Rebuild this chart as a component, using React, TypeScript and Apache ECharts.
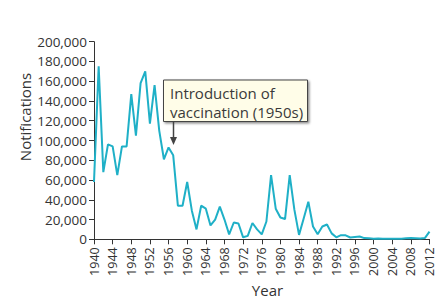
import React, { useEffect, useRef } from "react";
import * as echarts from "echarts";

const years: number[] = [
  1940, 1941, 1942, 1943, 1944, 1945, 1946, 1947, 1948, 1949,
  1950, 1951, 1952, 1953, 1954, 1955, 1956, 1957, 1958, 1959,
  1960, 1961, 1962, 1963, 1964, 1965, 1966, 1967, 1968, 1969,
  1970, 1971, 1972, 1973, 1974, 1975, 1976, 1977, 1978, 1979,
  1980, 1981, 1982, 1983, 1984, 1985, 1986, 1987, 1988, 1989,
  1990, 1991, 1992, 1993, 1994, 1995, 1996, 1997, 1998, 1999,
  2000, 2001, 2002, 2003, 2004, 2005, 2006, 2007, 2008, 2009,
  2010, 2011, 2012,
];

const notifications: number[] = [
  58000, 175000, 68000, 96000, 94000, 65000, 94000, 94000, 147000, 105000,
  158000, 170000, 117000, 156000, 110000, 81000, 93000, 85000, 34000, 34000,
  58000, 29000, 10000, 34000, 31000, 14000, 20000, 33000, 20000, 5000,
  17000, 16000, 2000, 3500, 16500, 10000, 5000, 18000, 65000, 31000,
  22000, 20500, 65000, 30000, 4500, 21000, 38000, 13000, 5000, 13000,
  15000, 6000, 2000, 4200, 4000, 1800, 2400, 2900, 1200, 1100,
  600, 700, 600, 500, 500, 600, 600, 1000, 1200, 1100,
  800, 1200, 7700,
];

const yAxisTitle = "Notifications";
const xAxisTitle = "Year";
const annotationText = "Introduction of\nvaccination (1950s)";

const FONT = "'Open Sans', 'DejaVu Sans', sans-serif";
const TEXT = "#333333";
const AXIS = "#333333";

export default function App() {
  const ref = useRef<HTMLDivElement>(null);

  useEffect(() => {
    if (!ref.current) return;
    const chart = echarts.init(ref.current, null, { renderer: "svg" });
    const data = years.map((y, i) => [y, notifications[i]]);
    chart.setOption({
      animation: false,
      backgroundColor: "#ffffff",
      grid: { left: 94, top: 41.7, right: 2, bottom: 60.7, containLabel: false },
      xAxis: {
        type: "value",
        min: 1940,
        max: 2012,
        interval: 4,
        axisLine: { show: true, lineStyle: { color: AXIS, width: 1 } },
        axisTick: { show: true, length: 5, lineStyle: { color: AXIS } },
        splitLine: { show: false },
        axisLabel: {
          rotate: 90,
          margin: 8,
          color: TEXT,
          fontFamily: FONT,
          fontSize: 12.5,
          formatter: (v: number) => String(v),
        },
      },
      yAxis: {
        type: "value",
        min: 0,
        max: 200000,
        interval: 20000,
        axisLine: { show: true, lineStyle: { color: AXIS, width: 1 } },
        axisTick: { show: true, length: 5, lineStyle: { color: AXIS } },
        splitLine: { show: false },
        axisLabel: {
          margin: 7,
          color: TEXT,
          fontFamily: FONT,
          fontSize: 13.5,
          formatter: (v: number) => v.toLocaleString("en-US"),
        },
      },
      series: [
        {
          type: "line",
          data,
          symbol: "none",
          lineStyle: { color: "#1fb0c7", width: 2 },
          clip: false,
        },
      ],
      graphic: [
        {
          type: "text",
          x: 25,
          y: 117,
          rotation: Math.PI / 2,
          style: {
            text: yAxisTitle,
            fill: TEXT,
            font: `15px ${FONT}`,
            align: "center",
            verticalAlign: "middle",
          },
        },
        {
          type: "text",
          x: 267.5,
          y: 290,
          style: {
            text: xAxisTitle,
            fill: TEXT,
            font: `15px ${FONT}`,
            align: "center",
            verticalAlign: "middle",
          },
        },
        {
          type: "rect",
          shape: { x: 163.5, y: 80, width: 144, height: 41.5 },
          style: {
            fill: "#fffde8",
            stroke: "#444444",
            lineWidth: 1,
            shadowColor: "rgba(0,0,0,0.45)",
            shadowBlur: 2,
            shadowOffsetX: 1.5,
            shadowOffsetY: 1.5,
          },
          z: 10,
        },
        {
          type: "text",
          x: 170,
          y: 84,
          z: 11,
          style: {
            text: annotationText,
            fill: "#3a3a3a",
            font: `15px ${FONT}`,
            lineHeight: 18.4,
            align: "left",
            verticalAlign: "top",
          },
        },
        {
          type: "line",
          shape: { x1: 173.5, y1: 121.5, x2: 173.5, y2: 138 },
          style: { stroke: "#444444", lineWidth: 1.5 },
          z: 11,
        },
        {
          type: "polygon",
          shape: { points: [[170, 137], [177, 137], [173.5, 145]] },
          style: { fill: "#444444" },
          z: 11,
        },
      ],
    });
    return () => chart.dispose();
  }, []);

  return (
    <div
      ref={ref}
      style={{ position: "fixed", left: 0, top: 0, width: 436, height: 300 }}
    />
  );
}
